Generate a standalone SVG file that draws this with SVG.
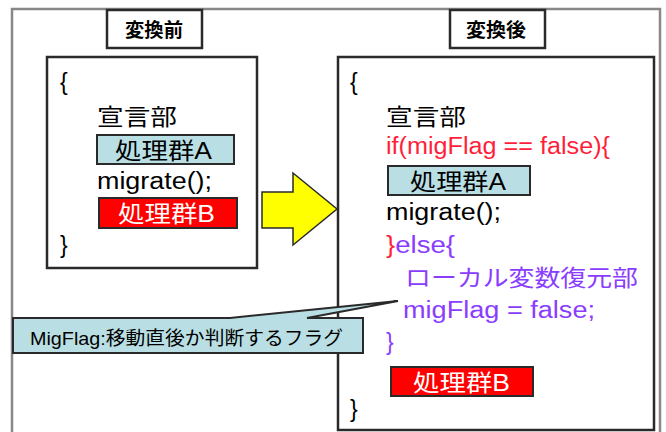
<svg xmlns="http://www.w3.org/2000/svg" width="666" height="432" viewBox="0 0 666 432">
<style>
.t{font-family:"Liberation Sans","Noto Sans CJK JP",sans-serif;font-size:23px;fill:#000}
.h{font-family:"Noto Sans CJK JP","Liberation Sans",sans-serif;font-size:19px;font-weight:bold;fill:#000}
.box{fill:#fff;stroke:#2a2a2a;stroke-width:2.5}
.blue{fill:#b9dfe4;stroke:#2a2a2a;stroke-width:2}
.red{fill:#ff0000;stroke:#2a2a2a;stroke-width:2}
.r{fill:#ff1f3a}
.p{fill:#8a3cff}
.w{fill:#fff}
</style>
<rect width="666" height="432" fill="#fff"/>
<g id="frame">
<rect x="12" y="9" width="648" height="440" fill="none" stroke="#888" stroke-width="2.5"/>
</g>
<g id="header-before">
<rect x="107" y="10" width="95" height="38" class="box"/>
<text x="125" y="37" class="h" textLength="58" lengthAdjust="spacingAndGlyphs">変換前</text>
</g>
<g id="header-after">
<rect x="450" y="10" width="95" height="38" class="box"/>
<text x="466" y="37" class="h" textLength="60" lengthAdjust="spacingAndGlyphs">変換後</text>
</g>
<g id="before">
<rect x="47" y="57" width="210" height="211" class="box"/>
<text x="60" y="90" class="t">{</text>
<text x="97" y="125" class="t" textLength="80" lengthAdjust="spacingAndGlyphs">宣言部</text>
<rect x="97" y="135" width="137" height="29" class="blue"/>
<text x="115" y="159" class="t" textLength="97" lengthAdjust="spacingAndGlyphs">処理群A</text>
<text x="97" y="189" class="t" textLength="115" lengthAdjust="spacingAndGlyphs">migrate();</text>
<rect x="99" y="198" width="138" height="30" class="red"/>
<text x="118" y="222" class="t w" textLength="97" lengthAdjust="spacingAndGlyphs">処理群B</text>
<text x="60" y="253" class="t">}</text>
</g>
<g id="after">
<rect x="338" y="57" width="316" height="373" class="box"/>
<text x="350" y="90" class="t">{</text>
<text x="386" y="125" class="t" textLength="80" lengthAdjust="spacingAndGlyphs">宣言部</text>
<text x="386" y="154" class="t r" textLength="224" lengthAdjust="spacingAndGlyphs">if(migFlag == false){</text>
<rect x="388" y="166" width="142" height="29" class="blue"/>
<text x="410" y="190" class="t" textLength="96" lengthAdjust="spacingAndGlyphs">処理群A</text>
<text x="386" y="220" class="t" textLength="115" lengthAdjust="spacingAndGlyphs">migrate();</text>
<text x="386" y="253" class="t" textLength="69" lengthAdjust="spacingAndGlyphs"><tspan class="r">}</tspan><tspan class="p">else{</tspan></text>
<text x="405" y="286" class="t p" textLength="233" lengthAdjust="spacingAndGlyphs">ローカル変数復元部</text>
<text x="403" y="318" class="t p" textLength="192" lengthAdjust="spacingAndGlyphs">migFlag = false;</text>
<text x="386" y="350" class="t p">}</text>
<rect x="391" y="367" width="142" height="29" class="red"/>
<text x="413" y="391" class="t w" textLength="97" lengthAdjust="spacingAndGlyphs">処理群B</text>
<text x="350" y="417" class="t">}</text>
</g>
<g id="connectors">
<path d="M262,192 H293 V173 L337,209 L293,245 V228 H262 Z" fill="#ffff00" stroke="#2a2a2a" stroke-width="1.5" stroke-linejoin="miter"/>
</g>
<g id="callout">
<path d="M13,318 H230 L398,301 L307,318 H363 V353 H13 Z" fill="#b9dfe4" stroke="#2a2a2a" stroke-width="2"/>
<text x="30" y="345" class="t" style="font-size:19px" textLength="313" lengthAdjust="spacingAndGlyphs">MigFlag:移動直後か判断するフラグ</text>
</g>
</svg>
